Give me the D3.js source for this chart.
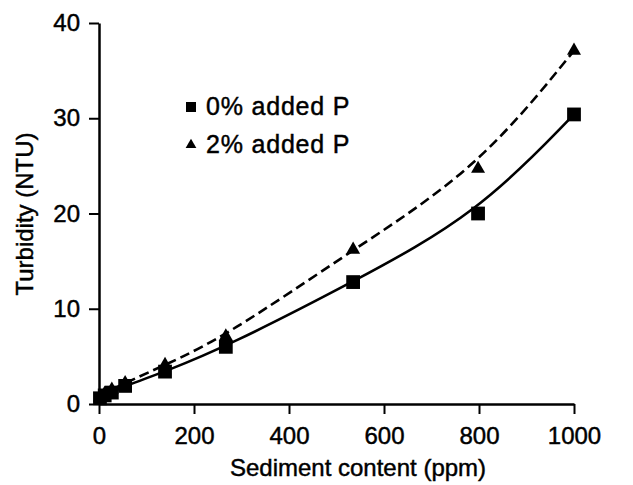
<!DOCTYPE html>
<html>
<head>
<meta charset="utf-8">
<script src="https://cdn.jsdelivr.net/npm/d3@7/dist/d3.min.js"></script>
<style>
  html, body { margin: 0; padding: 0; background: #fff; }
  svg { display: block; }
  text { font-family: "Liberation Sans", Arial, sans-serif; fill: #000; stroke: #000; stroke-width: 0.45px; }
</style>
</head>
<body>
<svg id="chart" width="633" height="485"></svg>
<script>
// ---- data ----
const sediment = [2, 12, 27, 55, 139, 267, 535, 798, 1000];           // ppm
const turb0 = [0.6, 0.9, 1.2, 1.9, 3.4, 6.0, 12.8, 20.0, 30.4];      // 0% added P
const turb2 = [0.7, 1.1, 1.5, 2.2, 4.1, 7.1, 16.2, 24.7, 37.1];      // 2% added P
const xTicks = [0, 200, 400, 600, 800, 1000];
const yTicks = [0, 10, 20, 30, 40];
const legendLabels = ["0% added P", "2% added P"];
const xTitle = "Sediment content (ppm)";
const yTitle = "Turbidity (NTU)";

const svg = d3.select("#chart");
const x = d3.scaleLinear().domain([0, 1000]).range([99, 574]);
const y = d3.scaleLinear().domain([0, 40]).range([404, 23]);

// axes
const xAxis = d3.axisBottom(x).tickValues(xTicks).tickFormat(d3.format("d"))
  .tickSize(10).tickSizeOuter(0).tickPadding(13);
const gx = svg.append("g").attr("transform", `translate(0,${y(0)})`).call(xAxis);
const yAxis = d3.axisLeft(y).tickValues(yTicks).tickFormat(d3.format("d"))
  .tickSize(10).tickSizeOuter(0).tickPadding(9);
const gy = svg.append("g").attr("transform", `translate(${x(0)},0)`).call(yAxis);
[gx, gy].forEach(g => {
  g.select(".domain").attr("stroke", "#000").attr("stroke-width", 2.5);
  g.selectAll(".tick line").attr("stroke", "#000").attr("stroke-width", 2);
  g.selectAll(".tick text").style("font-size", "24px").attr("fill", "#000");
});

// axis titles
svg.append("text").attr("x", 358).attr("y", 476).attr("text-anchor", "middle")
  .style("font-size", "24px").text(xTitle);
svg.append("text").attr("transform", "translate(33,214) rotate(-90)").attr("text-anchor", "middle")
  .style("font-size", "24px").text(yTitle);

// lines
const pts0 = sediment.map((s, i) => [s, turb0[i]]);
const pts2 = sediment.map((s, i) => [s, turb2[i]]);
const lineGen = d3.line().x(d => x(d[0])).y(d => y(d[1])).curve(d3.curveBasis);

svg.append("path").datum(pts0).attr("d", lineGen)
  .attr("fill", "none").attr("stroke", "#000").attr("stroke-width", 2.6);
svg.append("path").datum(pts2).attr("d", lineGen)
  .attr("fill", "none").attr("stroke", "#000").attr("stroke-width", 2.6)
  .attr("stroke-dasharray", "10,5");

// markers
const sq = d3.symbol().type(d3.symbolSquare).size(190);
const tri = d3.symbol().type(d3.symbolTriangle).size(85);
svg.append("g").selectAll("path").data(pts2).join("path")
  .attr("d", tri).attr("transform", d => `translate(${x(d[0])},${y(d[1])})`).attr("fill", "#000");
svg.append("g").selectAll("path").data(pts0).join("path")
  .attr("d", sq).attr("transform", d => `translate(${x(d[0])},${y(d[1])})`).attr("fill", "#000");

// legend
const lg = svg.append("g");
lg.append("path").attr("d", d3.symbol().type(d3.symbolSquare).size(100))
  .attr("transform", "translate(191,107)").attr("fill", "#000");
lg.append("path").attr("d", d3.symbol().type(d3.symbolTriangle).size(50))
  .attr("transform", "translate(191,145)").attr("fill", "#000");
lg.append("text").attr("x", 206).attr("y", 115).style("font-size", "25px")
  .style("letter-spacing", "0.8px").text(legendLabels[0]);
lg.append("text").attr("x", 206).attr("y", 153).style("font-size", "25px")
  .style("letter-spacing", "0.8px").text(legendLabels[1]);
</script>
</body>
</html>
